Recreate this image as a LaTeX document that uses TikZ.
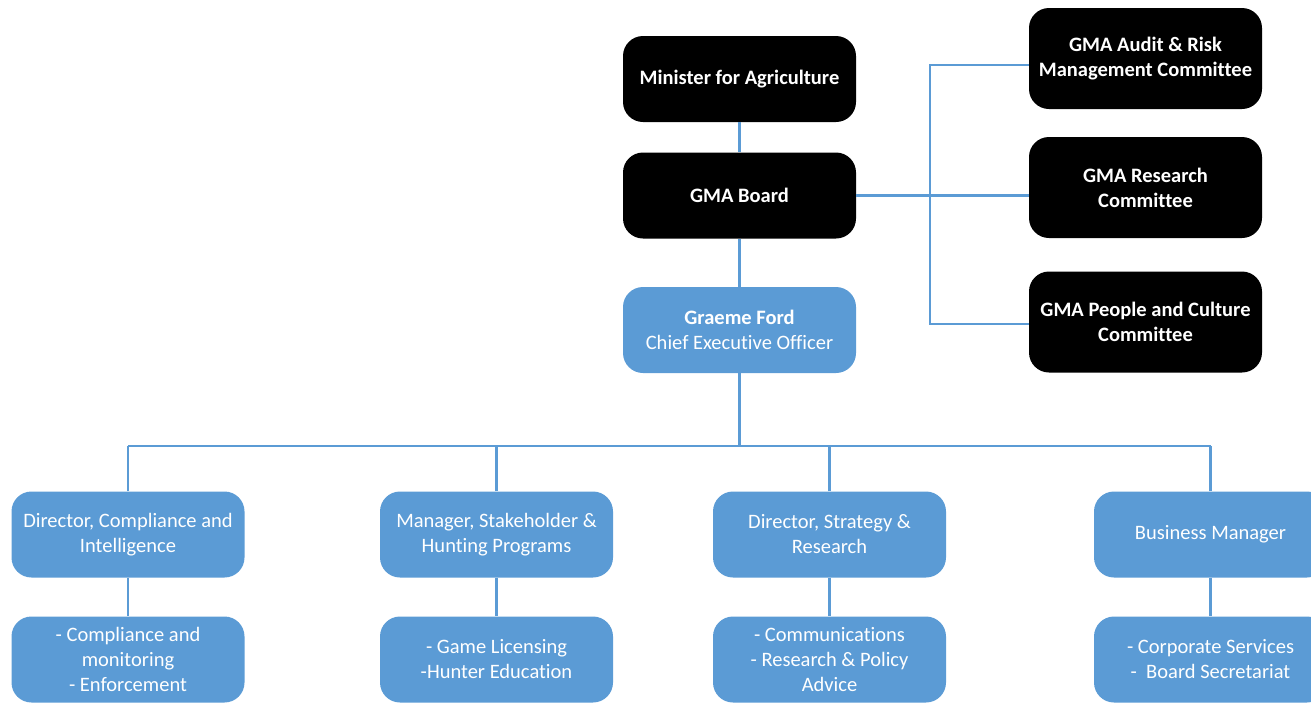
\documentclass[tikz,border=0pt]{standalone}
\usepackage{fontspec}
\setmainfont{Carlito}[Ligatures=NoCommon]
\usepackage{xcolor}
\usepackage{tikz}
\usetikzlibrary{positioning}
\definecolor{gmablue}{HTML}{5B9BD5}

\begin{document}
\begin{tikzpicture}[x=1pt,y=-1pt,
  box/.style={rounded corners=20pt,minimum width=233pt,minimum height=86pt,inner sep=0pt,align=center,text=white,font=\fontsize{20.5}{25}\selectfont},
  board/.style={box,fill=black,font=\bfseries\fontsize{20.5}{25}\selectfont},
  staff/.style={box,fill=gmablue},
  link/.style={draw=gmablue,line width=2.5pt}]
\useasboundingbox (0,0) rectangle (1311,702);
% governance
\node[board] (minister) at (739.5,79) {Minister for Agriculture};
\node[board] (board) at (739.5,195.5) {GMA Board};
\node[staff] (ceo) at (739.5,330) {\textbf{Graeme Ford}\\Chief Executive Officer};
\node[board,minimum height=101pt] (audit) at (1145.5,58.5) {GMA Audit \& Risk\\Management Committee};
\node[board,minimum height=101pt] (research) at (1145.5,187.5) {GMA Research\\Committee};
\node[board,minimum height=101pt] (people) at (1145.5,322) {GMA People and Culture\\Committee};
% directors
\node[staff] (dci) at (128,534.5) {Director, Compliance and\\Intelligence};
\node[staff] (shp) at (496.5,534.5) {Manager, Stakeholder \&\\Hunting Programs};
\node[staff] (dsr) at (829.5,534.5) {Director, Strategy \&\\Research};
\node[staff] (bm) at (1210.5,534.5) {Business Manager};
% functions
\node[staff] (dci2) at (128,659.5) {- Compliance and\\monitoring\\- Enforcement};
\node[staff] (shp2) at (496.5,659.5) {- Game Licensing\\-Hunter Education};
\node[staff] (dsr2) at (829.5,659.5) {- Communications\\- Research \& Policy\\Advice};
\node[staff] (bm2) at (1210.5,659.5) {- Corporate Services\\- \ Board Secretariat};
% links
\coordinate (bus) at (0,446);
\coordinate (brk) at (930,200);
\draw[link] (minister) -- (board);
\draw[link] (board) -- (ceo);
\draw[link] (board.east) -- (research.west |- board.east);
\draw[link] ([yshift=-6.5pt]audit.west) -| (brk) |- ([yshift=-2pt]people.west);
\draw[link] (ceo) -- (ceo |- bus);
\draw[link] (dci.north |- bus) -- (bm.north |- bus);
\foreach \n in {dci,shp,dsr,bm}{
  \draw[link] (\n.north) -- (\n.north |- bus);
  \draw[link] (\n) -- (\n2);
}
\end{tikzpicture}
\end{document}
